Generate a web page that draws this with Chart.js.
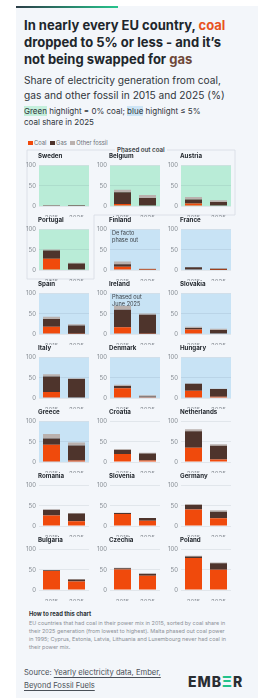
<!DOCTYPE html>
<html>
<head>
<meta charset="utf-8">
<script src="https://cdn.jsdelivr.net/npm/chart.js@4.4.1/dist/chart.umd.min.js"></script>
<style>
  html, body { margin: 0; padding: 0; background: #fff; }
  body { width: 270px; height: 700px; position: relative; overflow: hidden; font-family: 'Inter', sans-serif; }
  .card { position: absolute; left: 16px; top: 6px; width: 242px; height: 692px; background: #f3f6fa; }
  .accent { position: absolute; left: 16px; top: 6px; width: 102px; height: 2px; background: linear-gradient(90deg, #2c3e48, #27c48c); }
  .abs { position: absolute; white-space: nowrap; }
  .title { left: 24px; top: 17px; font-size: 13px; line-height: 17px; font-weight: 700; color: #21262c; }
  .sub { left: 24px; top: 73px; font-size: 10.2px; line-height: 14.5px; color: #30353b; }
  .note { left: 24px; top: 106px; font-size: 8px; line-height: 10.5px; color: #30353b; }
  .legend { left: 28px; top: 139px; font-size: 5.8px; color: #6b7077; line-height: 8px; }
  .legend span.sw { display: inline-block; width: 5px; height: 4px; margin-right: 1px; vertical-align: 0; }
  .ptitle { font-size: 6.2px; font-weight: 700; color: #24292f; line-height: 8px; }
  .annot { font-size: 5.6px; line-height: 6.5px; color: #3a3f45; }
  .how { left: 29px; top: 610px; font-size: 5.8px; font-weight: 700; color: #2a2f35; }
  .body { left: 29px; top: 619px; font-size: 5.45px; line-height: 8px; color: #8b9097; }
  .src { left: 24px; top: 667px; font-size: 7.6px; line-height: 12.5px; color: #4a5058; }
  .src u { text-decoration-thickness: 0.5px; text-underline-offset: 1.5px; }
  .logo { left: 188px; top: 673px; font-size: 14px; font-weight: 800; letter-spacing: 1px; color: #2a2e33; }
  canvas { position: absolute; }
</style>
</head>
<body>
<div class="card"></div>
<div class="accent"></div>
<div class="abs title">In nearly every EU country, <span style="color:#e8531f">coal</span><br>dropped to 5% or less - and it’s<br>not being swapped for <span style="color:#6e4738">gas</span></div>
<div class="abs sub">Share of electricity generation from coal,<br>gas and other fossil in 2015 and 2025 (%)</div>
<div class="abs note"><span style="background:#c4efdc">Green</span> highlight = 0% coal; <span style="background:#cde5f6">blue</span> highlight ≤ 5%<br>coal share in 2025</div>
<div class="abs legend"><span class="sw" style="background:#f04a0c"></span>Coal <span class="sw" style="background:#4e342c;margin-left:2px"></span>Gas <span class="sw" style="background:#bab1ae;margin-left:2px"></span>Other fossil</div>
<svg class="abs" style="left:0;top:0" width="270" height="700">
  <polygon points="27,150 235,150 235,215 94,215 94,279 27,279" fill="none" stroke="#d6dce3" stroke-width="0.8"/>
</svg>
<div class="abs ptitle" style="left:115px;top:146px;background:#f3f6fa;padding:0 2px;font-weight:600;color:#3a3f45">Phased out coal</div>
<div id="panels"></div>
<div class="abs how">How to read this chart</div>
<div class="abs body">EU countries that had coal in their power mix in 2015, sorted by coal share in<br>their 2025 generation (from lowest to highest). Malta phased out coal power<br>in 1995; Cyprus, Estonia, Latvia, Lithuania and Luxembourg never had coal in<br>their power mix.</div>
<div class="abs src">Source: <u>Yearly electricity data, Ember,</u><br><u>Beyond Fossil Fuels</u></div>
<div class="abs logo">EMB<span style="color:#22c28b">Ξ</span>R</div>

<script>
// countries sorted by 2025 coal share
const countries = ['Sweden', 'Belgium', 'Austria', 'Portugal', 'Finland', 'France', 'Spain', 'Ireland', 'Slovakia',
  'Italy', 'Denmark', 'Hungary', 'Greece', 'Croatia', 'Netherlands', 'Romania', 'Slovenia', 'Germany',
  'Bulgaria', 'Czechia', 'Poland'];
const years = ['2015', '2025'];
const yTicks = [0, 50, 100];

// share of generation (%)
const coal2015  = [0, 5, 6, 28, 8, 1.5, 18, 17, 11, 15, 24, 18, 43, 20, 35, 26, 30, 41, 47, 51, 79];
const coal2025  = [0, 0, 0, 0, 0.3, 0.3, 0.5, 0.5, 1, 1, 2, 3, 4, 4, 6, 12, 13, 19, 21, 35, 50];
const gas2015   = [0.5, 29, 10, 20, 6, 5, 19, 43, 4, 38, 6, 17, 15, 10, 41, 14, 2, 11, 2, 3, 4];
const gas2025   = [0.3, 20, 10, 16, 0.7, 2.5, 20.5, 47, 9, 46, 2, 19, 37, 17, 34, 19, 6.5, 16, 5, 5, 16];
const other2015 = [2, 6, 6, 3, 7, 0.5, 6, 10, 3, 6, 3, 1, 11, 2, 5, 1, 1, 2.5, 0.5, 1, 2];
const other2025 = [1, 7, 4, 2, 3, 1.5, 3, 3, 3, 2, 3, 1, 7, 2, 4, 1, 0.5, 4, 1, 1, 2];
const highlight = ['green', 'green', 'green', 'green', 'blue', 'blue', 'blue', 'blue', 'blue',
  'blue', 'blue', 'blue', 'blue', '', '', '', '', '', '', '', ''];
const notes = { Finland: ['De facto', 'phase out'], Ireland: ['Phased out', 'June 2025'] };

const COAL = '#f04a0c', GAS = '#4e342c', OTHER = '#bab1ae';
const HL = { green: '#b9ecd7', blue: '#c8e3f5' };

const bgPlugin = {
  id: 'hl',
  beforeDraw(chart, args, opts) {
    if (!opts.color) return;
    const a = chart.chartArea;
    chart.ctx.fillStyle = opts.color;
    chart.ctx.fillRect(a.left, a.top, a.width, a.height);
  }
};

const host = document.getElementById('panels');
const tickFont = { family: 'Inter', size: 6 };

countries.forEach((name, i) => {
  const col = i % 3, row = Math.floor(i / 3);
  const plotLeft = 39 + 71 * col;
  const plotTop = 164 + 64 * row;

  const t = document.createElement('div');
  t.className = 'abs ptitle';
  t.style.left = (plotLeft - 1) + 'px';
  t.style.top = (plotTop - 12) + 'px';
  t.textContent = name;
  document.body.appendChild(t);

  const cv = document.createElement('canvas');
  cv.width = 69; cv.height = 58;
  cv.style.left = (plotLeft - 17) + 'px';
  cv.style.top = (plotTop - 5) + 'px';
  host.appendChild(cv);

  new Chart(cv, {
    type: 'bar',
    data: {
      labels: years,
      datasets: [
        { label: 'Coal', data: [coal2015[i], coal2025[i]], backgroundColor: COAL },
        { label: 'Gas', data: [gas2015[i], gas2025[i]], backgroundColor: GAS },
        { label: 'Other fossil', data: [other2015[i], other2025[i]], backgroundColor: OTHER }
      ]
    },
    plugins: [bgPlugin],
    options: {
      responsive: false,
      animation: false,
      devicePixelRatio: 1,
      layout: { padding: { top: 5, right: 2, left: 0, bottom: 0 } },
      datasets: { bar: { barPercentage: 0.68, categoryPercentage: 1, borderWidth: 0 } },
      plugins: {
        legend: { display: false },
        tooltip: { enabled: false },
        hl: { color: HL[highlight[i]] || '' }
      },
      scales: {
        x: {
          stacked: true,
          grid: { display: false },
          border: { display: false },
          ticks: { font: tickFont, color: '#868c93', padding: 1, maxRotation: 0, autoSkip: false },
          afterFit(s) { s.height = 11; }
        },
        y: {
          stacked: true,
          min: 0, max: 100,
          afterBuildTicks(s) { s.ticks = yTicks.map(v => ({ value: v })); },
          ticks: { font: tickFont, color: '#868c93', padding: 3 },
          grid: { color: 'rgba(70,90,110,0.13)', lineWidth: 0.8, drawTicks: false },
          border: { display: false },
          afterFit(s) { s.width = 17; }
        }
      }
    }
  });

  if (notes[name]) {
    const n = document.createElement('div');
    n.className = 'abs annot';
    n.style.left = (plotLeft + 2) + 'px';
    n.style.top = (plotTop + 2) + 'px';
    n.innerHTML = notes[name].join('<br>');
    document.body.appendChild(n);
  }
});
</script>
</body>
</html>
